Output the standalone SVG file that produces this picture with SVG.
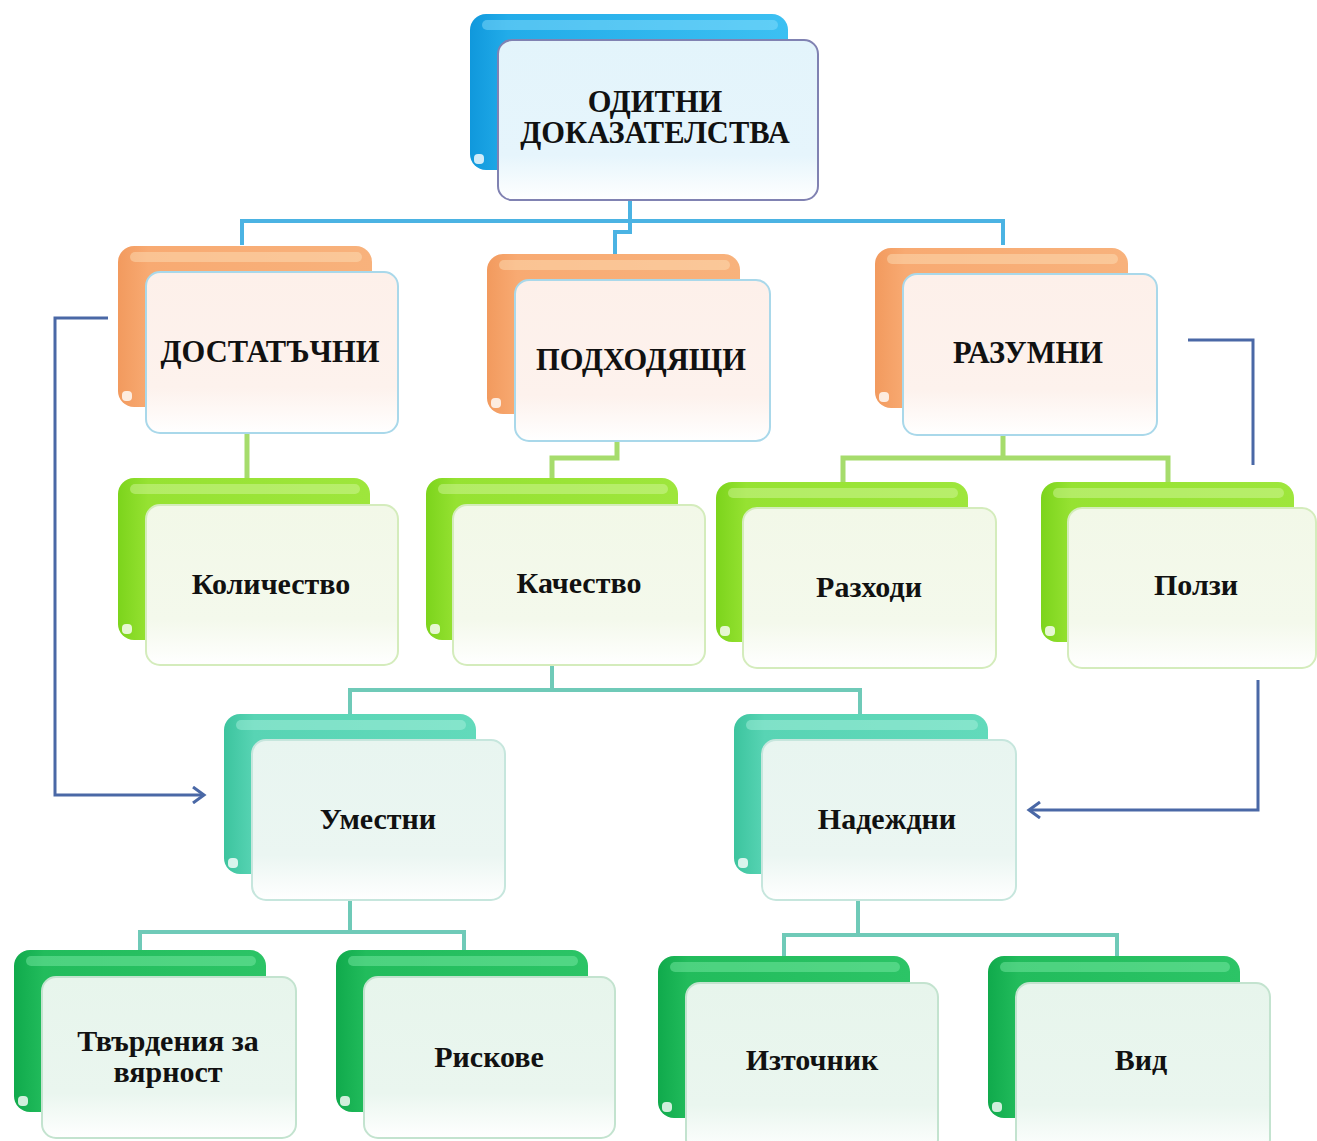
<svg xmlns="http://www.w3.org/2000/svg" width="1317" height="1141" viewBox="0 0 1317 1141">
<style>
.bg{fill:#ffffff}
.back{stroke:none}
.hl{stroke:none;opacity:0.45}
.dot{fill:#ffffff;opacity:0.8}
.front{stroke-width:2}
.t{font-family:"Liberation Serif","Times New Roman",serif;font-weight:bold;fill:#111111;text-anchor:middle}
.cap{font-size:30.5px}
.low{font-size:30px}
.cb{fill:none;stroke:#4bb3e3;stroke-width:4}
.cg{fill:none;stroke:#a6dc6c;stroke-width:5}
.ct{fill:none;stroke:#6fcab8;stroke-width:4}
.ar{fill:none;stroke:#4a68a6;stroke-width:3}
</style>
<defs>
<linearGradient id="gBlue" x1="0" y1="0" x2="1" y2="0"><stop offset="0" stop-color="#1098dc"/><stop offset="0.12" stop-color="#22ace9"/><stop offset="1" stop-color="#3cc0f2"/></linearGradient>
<linearGradient id="gOr" x1="0" y1="0" x2="1" y2="0"><stop offset="0" stop-color="#f29a5e"/><stop offset="0.12" stop-color="#f8aa72"/><stop offset="1" stop-color="#f8b27c"/></linearGradient>
<linearGradient id="gLg" x1="0" y1="0" x2="1" y2="0"><stop offset="0" stop-color="#7cd41c"/><stop offset="0.12" stop-color="#96e232"/><stop offset="1" stop-color="#9ee63c"/></linearGradient>
<linearGradient id="gTe" x1="0" y1="0" x2="1" y2="0"><stop offset="0" stop-color="#3cc49e"/><stop offset="0.12" stop-color="#58d4b4"/><stop offset="1" stop-color="#62dabb"/></linearGradient>
<linearGradient id="gDg" x1="0" y1="0" x2="1" y2="0"><stop offset="0" stop-color="#10aa4c"/><stop offset="0.12" stop-color="#22bc5c"/><stop offset="1" stop-color="#2cc466"/></linearGradient>
<linearGradient id="fBlue" x1="0" y1="0" x2="0" y2="1"><stop offset="0" stop-color="#e3f4fb"/><stop offset="0.72" stop-color="#e6f5fc"/><stop offset="1" stop-color="#ffffff"/></linearGradient>
<linearGradient id="fOr" x1="0" y1="0" x2="0" y2="1"><stop offset="0" stop-color="#fdf0ea"/><stop offset="0.72" stop-color="#fdf2ed"/><stop offset="1" stop-color="#ffffff"/></linearGradient>
<linearGradient id="fLg" x1="0" y1="0" x2="0" y2="1"><stop offset="0" stop-color="#f2f8e8"/><stop offset="0.72" stop-color="#f4f9ec"/><stop offset="1" stop-color="#ffffff"/></linearGradient>
<linearGradient id="fTe" x1="0" y1="0" x2="0" y2="1"><stop offset="0" stop-color="#e8f5f0"/><stop offset="0.72" stop-color="#ebf6f2"/><stop offset="1" stop-color="#ffffff"/></linearGradient>
<linearGradient id="fDg" x1="0" y1="0" x2="0" y2="1"><stop offset="0" stop-color="#e7f5ec"/><stop offset="0.72" stop-color="#eaf6ef"/><stop offset="1" stop-color="#ffffff"/></linearGradient>
<marker id="chev" viewBox="0 0 18 18" refX="15" refY="9" markerWidth="18" markerHeight="18" markerUnits="userSpaceOnUse" orient="auto"><path d="M4,1 L15,9 L4,17" fill="none" stroke="#4a68a6" stroke-width="3"/></marker>
</defs>
<rect class="bg" x="0" y="0" width="1317" height="1141"/>

<g id="connectors">
<path class="cb" d="M630,200 V221 M242,245 V221 H1003 V245 M630,221 V232 H615 V254"/>
<path class="cg" d="M247,433 V478 M617,441 V458 H552 V478 M1003,435 V458 M843,482 V458 H1168 V482"/>
<path class="ct" d="M552,665 V690 M350,714 V690 H860 V714 M350,900 V932 M140,950 V932 H464 V950 M858,900 V935 M784,956 V935 H1117 V956"/>
<path class="ar" d="M108,318 H55 V795 H204" marker-end="url(#chev)"/>
<path class="ar" d="M1188,340 H1253 V465"/>
<path class="ar" d="M1258,680 V810 H1029" marker-end="url(#chev)"/>
</g>

<g id="node-root">
<rect class="back" x="470" y="14" width="318" height="156" rx="16" fill="url(#gBlue)"/>
<rect class="hl" x="482" y="20" width="296" height="10" rx="5" fill="#8fe0fc"/>
<rect class="dot" x="474" y="154" width="10" height="10" rx="4"/>
<rect class="front" x="498" y="40" width="320" height="160" rx="14" fill="url(#fBlue)" stroke="#8082b2"/>
<text class="t cap" x="655" y="112">ОДИТНИ</text>
<text class="t cap" x="655" y="143">ДОКАЗАТЕЛСТВА</text>
</g>

<g id="node-dostatachni">
<rect class="back" x="118" y="246" width="254" height="161" rx="16" fill="url(#gOr)"/>
<rect class="hl" x="130" y="252" width="232" height="10" rx="5" fill="#fde2bc"/>
<rect class="dot" x="122" y="391" width="10" height="10" rx="4"/>
<rect class="front" x="146" y="272" width="252" height="161" rx="14" fill="url(#fOr)" stroke="#a9d8ea"/>
<text class="t cap" x="270" y="362">ДОСТАТЪЧНИ</text>
</g>

<g id="node-podhodyashti">
<rect class="back" x="487" y="254" width="253" height="160" rx="16" fill="url(#gOr)"/>
<rect class="hl" x="499" y="260" width="231" height="10" rx="5" fill="#fde2bc"/>
<rect class="dot" x="491" y="398" width="10" height="10" rx="4"/>
<rect class="front" x="515" y="280" width="255" height="161" rx="14" fill="url(#fOr)" stroke="#a9d8ea"/>
<text class="t cap" x="641" y="370">ПОДХОДЯЩИ</text>
</g>

<g id="node-razumni">
<rect class="back" x="875" y="248" width="253" height="160" rx="16" fill="url(#gOr)"/>
<rect class="hl" x="887" y="254" width="231" height="10" rx="5" fill="#fde2bc"/>
<rect class="dot" x="879" y="392" width="10" height="10" rx="4"/>
<rect class="front" x="903" y="274" width="254" height="161" rx="14" fill="url(#fOr)" stroke="#a9d8ea"/>
<text class="t cap" x="1028" y="363">РАЗУМНИ</text>
</g>

<g id="node-kolichestvo">
<rect class="back" x="118" y="478" width="252" height="162" rx="16" fill="url(#gLg)"/>
<rect class="hl" x="130" y="484" width="230" height="10" rx="5" fill="#d6f8a4"/>
<rect class="dot" x="122" y="624" width="10" height="10" rx="4"/>
<rect class="front" x="146" y="505" width="252" height="160" rx="14" fill="url(#fLg)" stroke="#d4ecbc"/>
<text class="t low" x="271" y="594">Количество</text>
</g>

<g id="node-kachestvo">
<rect class="back" x="426" y="478" width="252" height="162" rx="16" fill="url(#gLg)"/>
<rect class="hl" x="438" y="484" width="230" height="10" rx="5" fill="#d6f8a4"/>
<rect class="dot" x="430" y="624" width="10" height="10" rx="4"/>
<rect class="front" x="453" y="505" width="252" height="160" rx="14" fill="url(#fLg)" stroke="#d4ecbc"/>
<text class="t low" x="579" y="593">Качество</text>
</g>

<g id="node-razhodi">
<rect class="back" x="716" y="482" width="252" height="160" rx="16" fill="url(#gLg)"/>
<rect class="hl" x="728" y="488" width="230" height="10" rx="5" fill="#d6f8a4"/>
<rect class="dot" x="720" y="626" width="10" height="10" rx="4"/>
<rect class="front" x="743" y="508" width="253" height="160" rx="14" fill="url(#fLg)" stroke="#d4ecbc"/>
<text class="t low" x="869" y="597">Разходи</text>
</g>

<g id="node-polzi">
<rect class="back" x="1041" y="482" width="253" height="160" rx="16" fill="url(#gLg)"/>
<rect class="hl" x="1053" y="488" width="231" height="10" rx="5" fill="#d6f8a4"/>
<rect class="dot" x="1045" y="626" width="10" height="10" rx="4"/>
<rect class="front" x="1068" y="508" width="248" height="160" rx="14" fill="url(#fLg)" stroke="#d4ecbc"/>
<text class="t low" x="1196" y="595">Ползи</text>
</g>

<g id="node-umestni">
<rect class="back" x="224" y="714" width="252" height="160" rx="16" fill="url(#gTe)"/>
<rect class="hl" x="236" y="720" width="230" height="10" rx="5" fill="#b0f2e0"/>
<rect class="dot" x="228" y="858" width="10" height="10" rx="4"/>
<rect class="front" x="252" y="740" width="253" height="160" rx="14" fill="url(#fTe)" stroke="#c6e6dd"/>
<text class="t low" x="378" y="829">Уместни</text>
</g>

<g id="node-nadezhdni">
<rect class="back" x="734" y="714" width="254" height="160" rx="16" fill="url(#gTe)"/>
<rect class="hl" x="746" y="720" width="232" height="10" rx="5" fill="#b0f2e0"/>
<rect class="dot" x="738" y="858" width="10" height="10" rx="4"/>
<rect class="front" x="762" y="740" width="254" height="160" rx="14" fill="url(#fTe)" stroke="#c6e6dd"/>
<text class="t low" x="887" y="829">Надеждни</text>
</g>

<g id="node-tvardenia">
<rect class="back" x="14" y="950" width="252" height="162" rx="16" fill="url(#gDg)"/>
<rect class="hl" x="26" y="956" width="230" height="10" rx="5" fill="#80eeaa"/>
<rect class="dot" x="18" y="1096" width="10" height="10" rx="4"/>
<rect class="front" x="42" y="977" width="254" height="161" rx="14" fill="url(#fDg)" stroke="#c3e3cf"/>
<text class="t low" x="168" y="1051">Твърдения за</text>
<text class="t low" x="168" y="1082">вярност</text>
</g>

<g id="node-riskove">
<rect class="back" x="336" y="950" width="252" height="162" rx="16" fill="url(#gDg)"/>
<rect class="hl" x="348" y="956" width="230" height="10" rx="5" fill="#80eeaa"/>
<rect class="dot" x="340" y="1096" width="10" height="10" rx="4"/>
<rect class="front" x="364" y="977" width="251" height="161" rx="14" fill="url(#fDg)" stroke="#c3e3cf"/>
<text class="t low" x="489" y="1067">Рискове</text>
</g>

<g id="node-iztochnik">
<rect class="back" x="658" y="956" width="252" height="162" rx="16" fill="url(#gDg)"/>
<rect class="hl" x="670" y="962" width="230" height="10" rx="5" fill="#80eeaa"/>
<rect class="dot" x="662" y="1102" width="10" height="10" rx="4"/>
<rect class="front" x="686" y="983" width="252" height="170" rx="14" fill="url(#fDg)" stroke="#c3e3cf"/>
<text class="t low" x="812" y="1070">Източник</text>
</g>

<g id="node-vid">
<rect class="back" x="988" y="956" width="252" height="162" rx="16" fill="url(#gDg)"/>
<rect class="hl" x="1000" y="962" width="230" height="10" rx="5" fill="#80eeaa"/>
<rect class="dot" x="992" y="1102" width="10" height="10" rx="4"/>
<rect class="front" x="1016" y="983" width="254" height="170" rx="14" fill="url(#fDg)" stroke="#c3e3cf"/>
<text class="t low" x="1141" y="1070">Вид</text>
</g>
</svg>
